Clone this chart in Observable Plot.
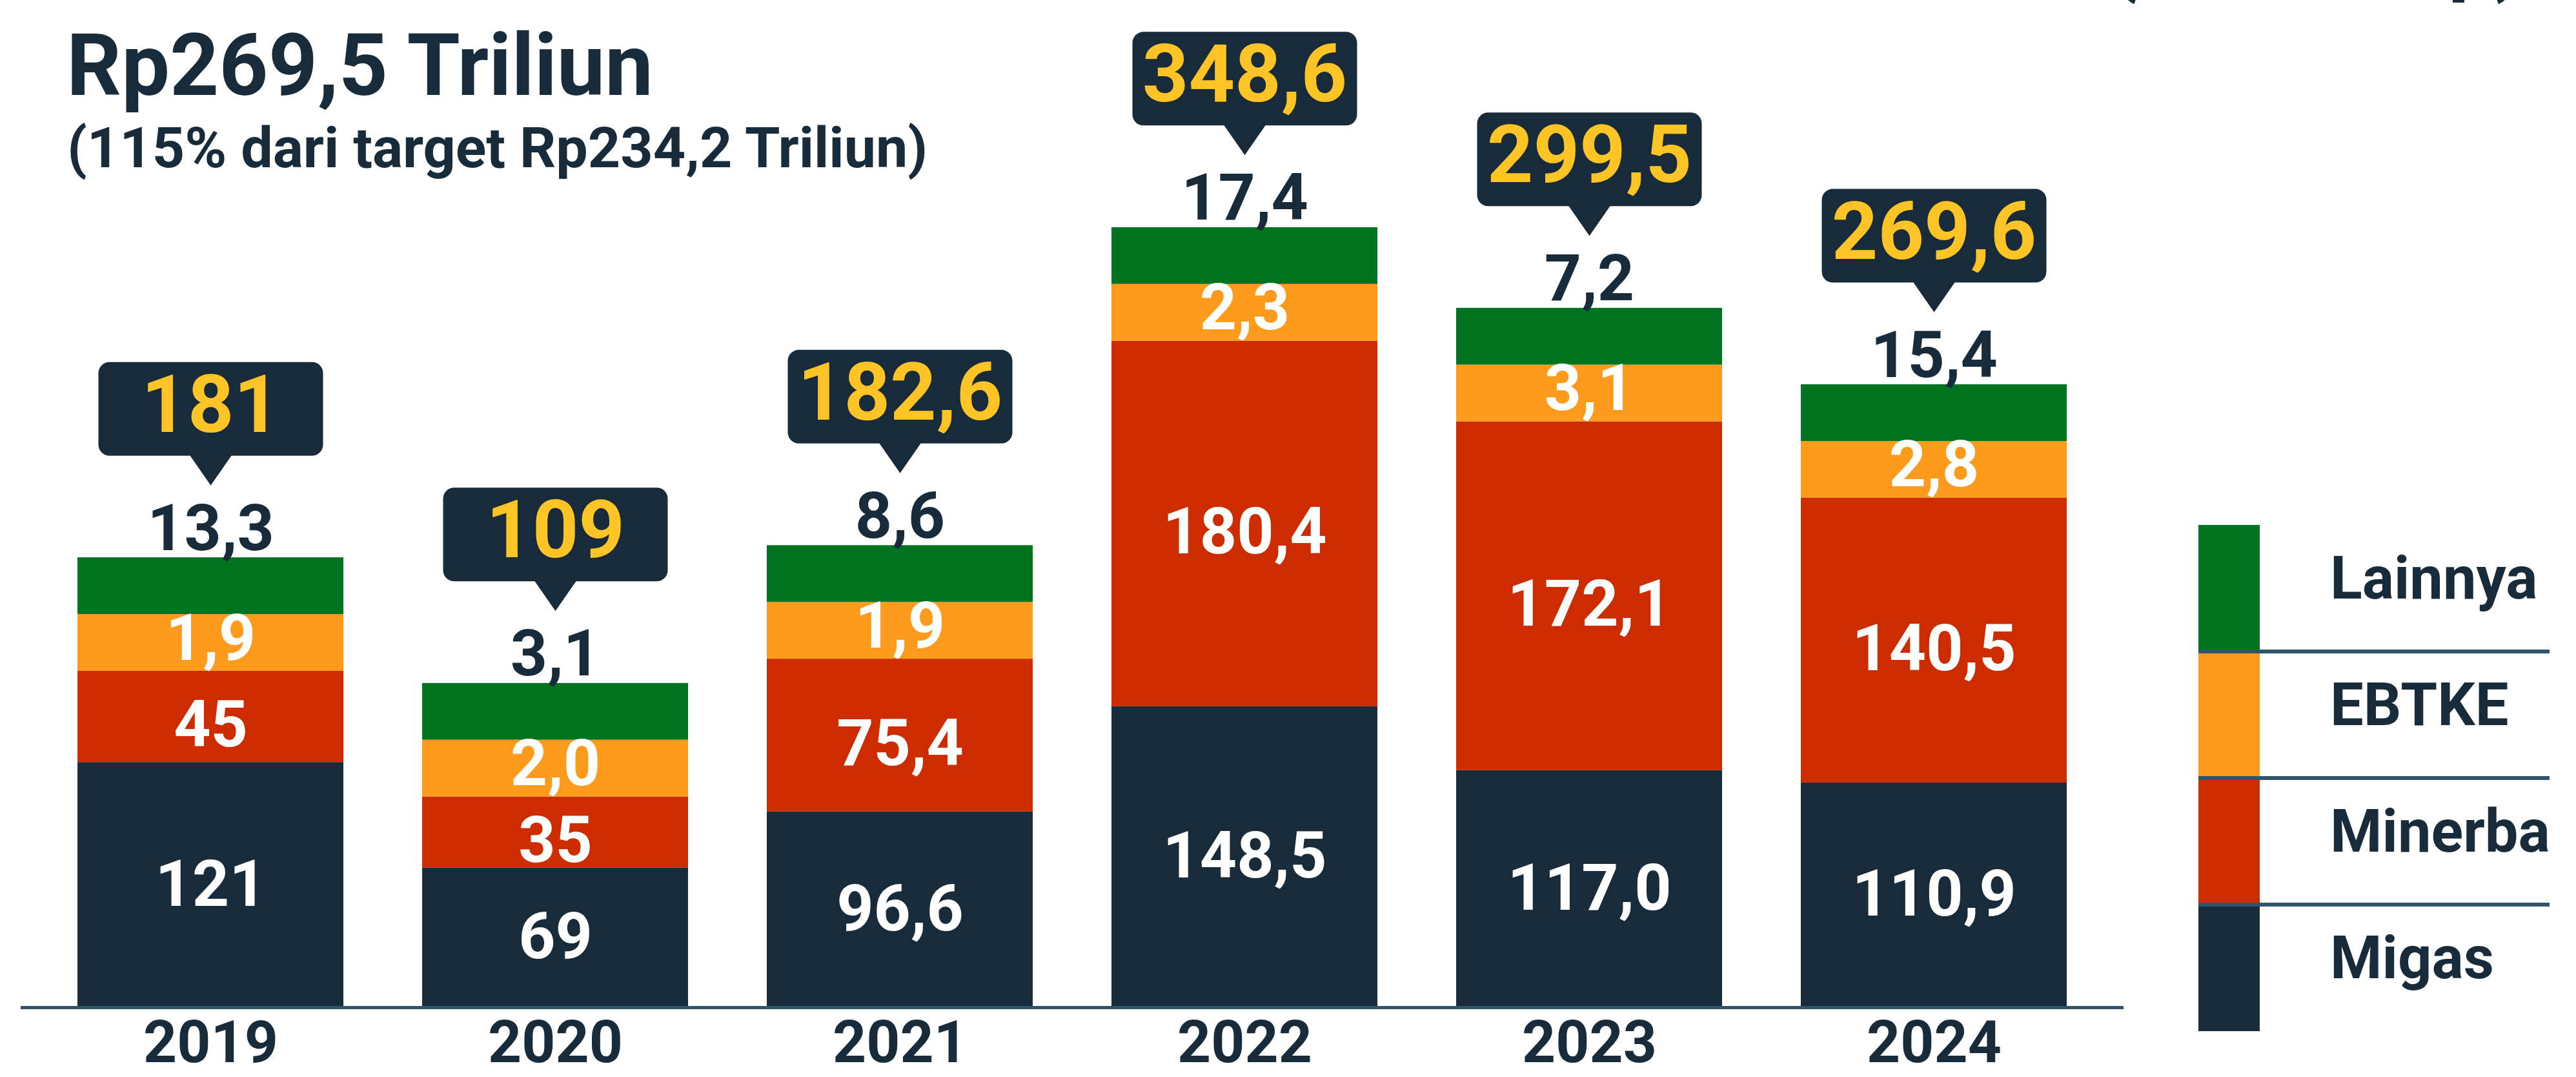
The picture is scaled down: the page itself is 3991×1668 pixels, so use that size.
<!DOCTYPE html>
<html>
<head>
<meta charset="utf-8">
<script src="https://cdn.jsdelivr.net/npm/d3@7"></script>
<script src="https://cdn.jsdelivr.net/npm/@observablehq/plot@0.6"></script>
<style>
  html, body { margin: 0; padding: 0; background: #ffffff; }
  #root { position: relative; width: 3991px; height: 1668px; overflow: hidden;
          font-family: Roboto, "Noto Sans", sans-serif; color: #172b3a; background: #fff; }
  .abs { position: absolute; white-space: nowrap; font-weight: 700; }
  #root svg { position: absolute; left: 0; top: 0; }
</style>
</head>
<body>
<div id="root"></div>
<script>
// ---------------- data ----------------
const years = ["2019", "2020", "2021", "2022", "2023", "2024"];
const categories = ["Migas", "Minerba", "EBTKE", "Lainnya"];          // bottom -> top
const colors = ["#172b3a", "#cc2c00", "#fe9a1c", "#007320"];
const migas   = ["121", "69", "96,6", "148,5", "117,0", "110,9"];
const minerba = ["45", "35", "75,4", "180,4", "172,1", "140,5"];
const ebtke   = ["1,9", "2,0", "1,9", "2,3", "3,1", "2,8"];
const lainnya = ["13,3", "3,1", "8,6", "17,4", "7,2", "15,4"];
const totals  = ["181", "109", "182,6", "348,6", "299,5", "269,6"];
const title = "Rp269,5 Triliun";
const subtitle = "(115% dari target Rp234,2 Triliun)";
const unitNote = "(Triliun Rp)";

// As in the original infographic, very thin segments are drawn with a minimum
// thickness so that their labels stay readable (labels always show true values).
const MIN_SEGMENT = 28;

const navy = "#172b3a", yellow = "#fec425", slate = "#30556a";
const num = s => +s.replace(",", ".");
const series = [migas, minerba, ebtke, lainnya];

const rows = [];
const tops = [];
years.forEach((year, i) => {
  let base = 0;
  categories.forEach((category, j) => {
    const label = series[j][i];
    const value = num(label);
    const shown = Math.max(value, MIN_SEGMENT);
    rows.push({year, category, label, value, y1: base, y2: base + shown});
    base += shown;
  });
  tops.push({year, top: base, total: totals[i], lainnya: lainnya[i]});
});

// label nudges (px) per category, as placed in the original
const labelShift = {Migas: 0, Minerba: 14, EBTKE: -6};

// callout bubble (rounded box with a pointer), drawn as a custom dot symbol
const callout = {
  draw(ctx) {
    const w = 174, top = -303, bottom = -158, tip = -112, r = 17, pw = 32;
    ctx.moveTo(-w + r, top);
    ctx.lineTo(w - r, top);
    ctx.arcTo(w, top, w, top + r, r);
    ctx.lineTo(w, bottom - r);
    ctx.arcTo(w, bottom, w - r, bottom, r);
    ctx.lineTo(pw, bottom);
    ctx.lineTo(0, tip);
    ctx.lineTo(-pw, bottom);
    ctx.lineTo(-w + r, bottom);
    ctx.arcTo(-w, bottom, -w, bottom - r, r);
    ctx.lineTo(-w, top + r);
    ctx.arcTo(-w, top, -w + r, top, r);
    ctx.closePath();
  }
};

const inner = rows.filter(d => d.category !== "Lainnya");

const plot = Plot.plot({
  width: 3991,
  height: 1668,
  marginLeft: 32,
  marginRight: 701,
  marginTop: 0,
  marginBottom: 108,
  style: {fontFamily: "Roboto, sans-serif", background: "transparent", overflow: "visible", color: navy},
  x: {domain: years, paddingInner: 0.2285, paddingOuter: 0.1648, label: null},
  y: {domain: [0, 497], axis: null},
  color: {domain: categories, range: colors},
  marks: [
    Plot.barY(rows, {x: "year", y1: "y1", y2: "y2", fill: "category"}),
    Plot.ruleY([0], {stroke: slate, strokeWidth: 5}),
    Plot.axisX({tickSize: 0, tickPadding: 20, fontSize: 91, fontWeight: 700, fill: navy, label: null}),
    ...["Migas", "Minerba", "EBTKE"].map(cat => Plot.text(inner.filter(d => d.category === cat), {
      x: "year", y: d => (d.y1 + d.y2) / 2, text: "label", dy: labelShift[cat],
      fill: "white", fontSize: 100, fontWeight: 700
    })),
    Plot.text(tops, {
      x: "year", y: "top", text: "lainnya", dy: -12, lineAnchor: "bottom",
      fill: navy, fontSize: 100, fontWeight: 700
    }),
    Plot.dot(tops, {x: "year", y: "top", symbol: callout, fill: navy, stroke: "none", ariaLabel: "callout"}),
    Plot.text(tops, {
      x: "year", y: "top", text: "total", dy: -195, lineAnchor: "bottom",
      fill: yellow, fontSize: 125, fontWeight: 700
    })
  ]
});

const svg = d3.select(plot);
svg.append("defs").html(
  '<filter id="shadow" x="-20%" y="-20%" width="150%" height="170%">' +
  '<feDropShadow dx="6" dy="8" stdDeviation="6" flood-color="#000" flood-opacity="0.35"/></filter>');
svg.select('g[aria-label="callout"]').attr("filter", "url(#shadow)");

const root = document.getElementById("root");
root.appendChild(plot);

// ---------------- titles ----------------
function addText(text, css) {
  const el = document.createElement("div");
  el.className = "abs";
  el.textContent = text;
  Object.assign(el.style, css);
  root.appendChild(el);
  return el;
}
addText(title, {left: "103px", top: "35px", fontSize: "133px", lineHeight: "133px", color: navy});
addText(subtitle, {left: "104px", top: "185px", fontSize: "88px", lineHeight: "88px", color: navy});
addText(unitNote, {right: "81px", top: "-130px", fontSize: "128px", lineHeight: "128px", color: navy});

// ---------------- legend (top -> bottom: Lainnya, EBTKE, Minerba, Migas) ----------------
const legendTop = 813, rowH = 196, swLeft = 3406, swW = 95, lineRight = 3950, textLeft = 3610;
const legendOrder = categories.slice().reverse();
legendOrder.forEach((cat, i) => {
  const sw = document.createElement("div");
  Object.assign(sw.style, {position: "absolute", left: swLeft + "px", top: (legendTop + i * rowH) + "px",
    width: swW + "px", height: rowH + "px", background: colors[categories.indexOf(cat)]});
  root.appendChild(sw);
  addText(cat, {left: textLeft + "px", top: (legendTop + i * rowH + 37) + "px",
    fontSize: "92px", lineHeight: "92px", color: navy});
});
for (let i = 1; i < legendOrder.length; i++) {
  const ln = document.createElement("div");
  Object.assign(ln.style, {position: "absolute", left: swLeft + "px", top: (legendTop + i * rowH - 3) + "px",
    width: (lineRight - swLeft) + "px", height: "6px", background: slate});
  root.appendChild(ln);
}
</script>
</body>
</html>
